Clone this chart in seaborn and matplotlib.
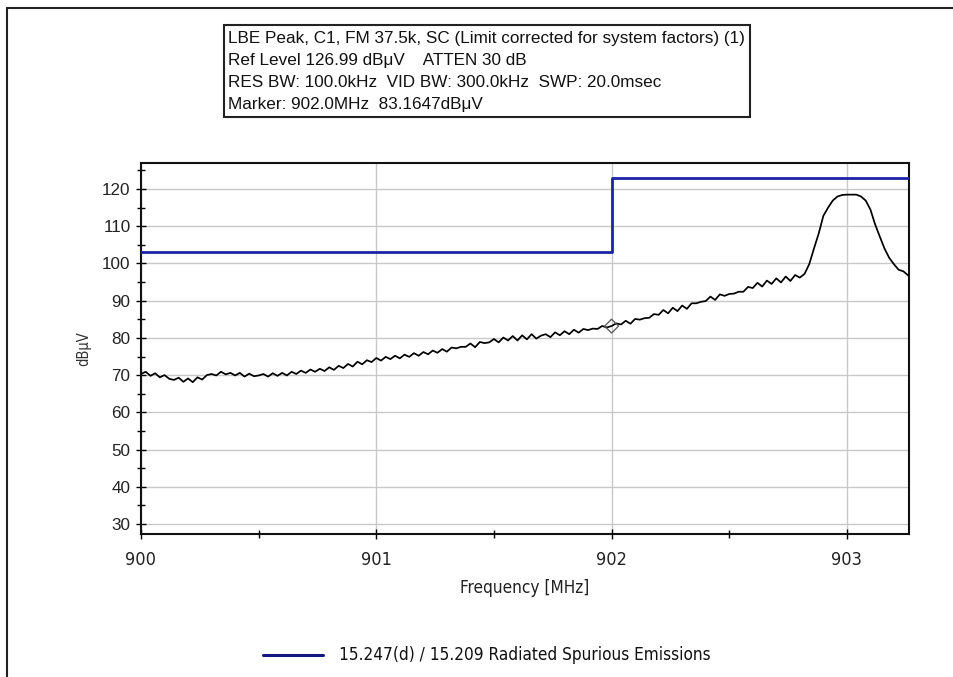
import numpy as np
import pandas as pd
import matplotlib
matplotlib.use("Agg")
import matplotlib.pyplot as plt
from matplotlib.patches import Rectangle
from matplotlib.lines import Line2D
from matplotlib.ticker import MultipleLocator
from matplotlib import font_manager
import seaborn as sns

# ---------------- data ----------------
freq_start = 900.0
freq_step = 0.02
trace_dbuv = [
    70.3, 70.9, 69.8, 70.5, 69.4, 70.0, 69.0, 68.7, 69.3, 68.2,
    69.1, 68.1, 69.4, 68.8, 70.0, 70.3, 69.9, 70.9, 70.2, 70.6,
    69.9, 70.6, 69.6, 70.4, 69.7, 69.9, 70.3, 69.6, 70.5, 69.8,
    70.6, 69.9, 70.9, 70.3, 71.2, 70.6, 71.5, 70.9, 71.7, 71.1,
    72.1, 71.4, 72.5, 71.9, 73.0, 72.3, 73.6, 72.9, 74.0, 73.5,
    74.6, 73.9, 74.9, 74.3, 75.2, 74.5, 75.5, 74.9, 75.9, 75.2,
    76.2, 75.6, 76.6, 76.0, 77.0, 76.3, 77.4, 77.2, 77.6, 77.6,
    78.5, 77.5, 78.9, 78.6, 78.8, 79.7, 78.8, 80.1, 79.3, 80.5,
    79.3, 80.7, 79.6, 81.0, 79.8, 80.6, 81.0, 80.2, 81.5, 80.7,
    81.8, 81.0, 82.2, 81.4, 82.4, 82.1, 82.5, 82.4, 83.2, 82.8,
    83.2, 83.9, 83.6, 84.6, 83.8, 85.1, 84.9, 85.3, 85.4, 86.4,
    86.2, 87.5, 86.6, 88.1, 87.2, 88.7, 87.8, 89.3, 89.3, 89.7,
    89.9, 91.1, 90.2, 91.7, 91.3, 91.8, 91.9, 92.4, 92.4, 93.7,
    93.4, 94.8, 93.8, 95.4, 94.5, 96.0, 94.9, 96.5, 95.3, 96.9,
    96.2, 97.2, 99.8, 104.0, 108.0, 112.8, 115.0, 116.9, 118.0, 118.4,
    118.5, 118.5, 118.5, 118.0, 116.9, 114.5, 110.5, 107.2, 104.0, 101.5,
    99.8, 98.3, 97.9, 96.8,
]
trace_freq = [round(freq_start + i * freq_step, 2) for i in range(len(trace_dbuv))]

limit_freq = [900.0, 902.0, 903.26]
limit_dbuv = [103.0, 123.0, 123.0]

marker_freq = [902.0]
marker_dbuv = [83.1647]

x_ticks = [900, 901, 902, 903]
y_ticks = [30, 40, 50, 60, 70, 80, 90, 100, 110, 120]

header_lines = [
    "LBE Peak, C1, FM 37.5k, SC (Limit corrected for system factors) (1)",
    "Ref Level 126.99 dB\u03bcV    ATTEN 30 dB",
    "RES BW: 100.0kHz  VID BW: 300.0kHz  SWP: 20.0msec",
    "Marker: 902.0MHz  83.1647dB\u03bcV",
]
legend_label = "15.247(d) / 15.209 Radiated Spurious Emissions"

# ---------------- style ----------------
sns.set_theme(style="white")
plt.rcParams["font.family"] = ["Liberation Sans", "DejaVu Sans"]

names = {f.name for f in font_manager.fontManager.ttflist}
if "Liberation Sans Narrow" in names:
    narrow = dict(family=["Liberation Sans Narrow", "DejaVu Sans"])
else:
    narrow = dict(family=["DejaVu Sans"], stretch="condensed")

W, H = 954, 677
fig = plt.figure(figsize=(W / 100, H / 100), dpi=100)
fig.patch.set_facecolor("white")

def fx(px):
    return px / W

def fy(py):
    return 1 - py / H

ax = fig.add_axes([fx(141), fy(534), fx(909) - fx(141), fy(163) - fy(534)])

trace_df = pd.DataFrame({"freq": trace_freq, "dbuv": trace_dbuv})
limit_df = pd.DataFrame({"freq": limit_freq, "dbuv": limit_dbuv})
marker_df = pd.DataFrame({"freq": marker_freq, "dbuv": marker_dbuv})

blue = "#1a24a6"

sns.lineplot(data=limit_df, x="freq", y="dbuv", ax=ax, color=blue, lw=2.0,
             drawstyle="steps-post", estimator=None, sort=False, zorder=3)
sns.lineplot(data=trace_df, x="freq", y="dbuv", ax=ax, color="black", lw=1.25,
             estimator=None, sort=False, zorder=4)
sns.scatterplot(data=marker_df, x="freq", y="dbuv", ax=ax, marker="D", s=50,
                facecolor="none", edgecolor="#555555", linewidth=0.9, zorder=5)

ax.set_xlim(900, 903.264)
ax.set_ylim(27.3, 127.0)
ax.set_xticks(x_ticks)
ax.set_xticklabels([str(t) for t in x_ticks], fontsize=13, **narrow)
ax.set_yticks(y_ticks)
ax.set_yticklabels([str(t) for t in y_ticks], fontsize=12.3)
ax.xaxis.set_minor_locator(MultipleLocator(0.5))
ax.yaxis.set_minor_locator(MultipleLocator(5))
ax.tick_params(axis="both", which="major", direction="inout", length=7, width=1.0,
               colors="black", pad=4, bottom=True, left=True)
ax.tick_params(axis="both", which="minor", direction="inout", length=6, width=1.0,
               colors="black", bottom=True, left=True)
ax.tick_params(axis="x", which="major", pad=9)
for lbl in ax.get_xticklabels() + ax.get_yticklabels():
    lbl.set_color("#222222")
ax.grid(True, which="major", color="#c8c8c8", lw=1.0, zorder=0)
ax.set_axisbelow(True)
for s in ax.spines.values():
    s.set_color("#111111")
    s.set_linewidth(1.5)

ax.set_xlabel("Frequency [MHz]", fontsize=12.3, labelpad=7,
              color="#222222", **narrow)
ax.set_ylabel("dB\u03bcV", fontsize=10.5, labelpad=8, color="#333333", **narrow)

# header box
fig.add_artist(Rectangle((fx(224), fy(117)), fx(750) - fx(224), fy(25) - fy(117),
                         transform=fig.transFigure, fill=False,
                         edgecolor="#222222", lw=1.5))
for i, line in enumerate(header_lines):
    fig.text(fx(228), fy(39 + i * 21.7), line, fontsize=12.3, va="center",
             ha="left", color="#111111")

# legend
fig.add_artist(Line2D([fx(263), fx(323)], [fy(655), fy(655)],
                      transform=fig.transFigure, color="#14177e", lw=2.2))
fig.text(fx(339), fy(655), legend_label, fontsize=12.3, va="center",
         ha="left", color="#111111", **narrow)

# outer border (left and top)
fig.add_artist(Line2D([fx(7.5), fx(7.5)], [0, fy(7.5)], transform=fig.transFigure,
                      color="#222222", lw=1.5))
fig.add_artist(Line2D([fx(7.5), 1], [fy(7.5), fy(7.5)], transform=fig.transFigure,
                      color="#222222", lw=1.5))

fig.savefig("out.png", dpi=100, facecolor="white")
